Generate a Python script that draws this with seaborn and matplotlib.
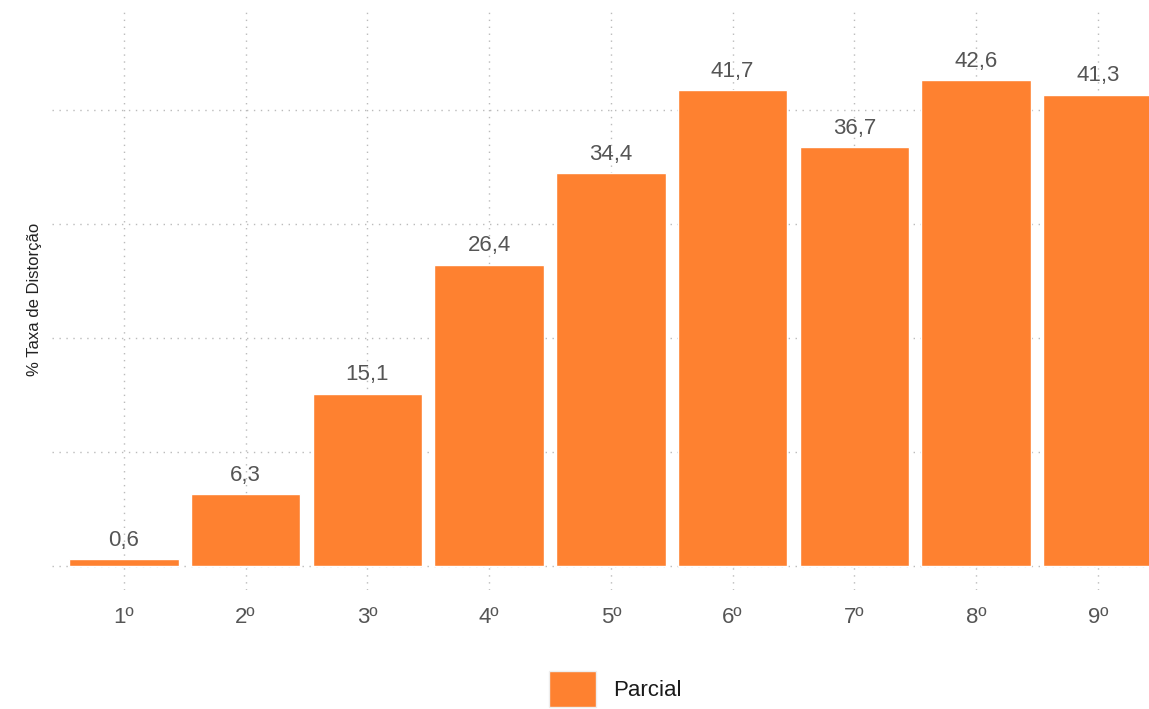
import numpy as np
import pandas as pd
import matplotlib
matplotlib.use("Agg")
import matplotlib.pyplot as plt
from matplotlib.patches import Patch
import seaborn as sns

# dados
anos = ["1º", "2º", "3º", "4º", "5º", "6º", "7º", "8º", "9º"]
taxa = [0.6, 6.3, 15.1, 26.4, 34.4, 41.7, 36.7, 42.6, 41.3]
serie = "Parcial"
cor = "#FE8130"

sns.set_theme(style="whitegrid")
plt.rcParams['font.family'] = ['Liberation Sans', 'DejaVu Sans']

df = pd.DataFrame({"ano": anos, "taxa": taxa})

fig = plt.figure(figsize=(11.49, 7.09), dpi=100)
ax = fig.add_axes([52 / 1149, 1 - 590 / 709, 1 - 52 / 1149, (590 - 8) / 709])

sns.barplot(data=df, x="ano", y="taxa", color=cor, saturation=1, width=0.9, ax=ax, zorder=3)

labels = ["{:.1f}".format(v).replace(".", ",") for v in taxa]
ax.bar_label(ax.containers[0], labels=labels, padding=6, fontsize=16, color="#555555")

ax.set_ylim(-2.1, 48.9)
ax.set_xlim(-0.59, 8.42)
ax.set_yticks([0, 10, 20, 30, 40])
ax.set_yticklabels([])
ax.set_xlabel("")
ax.set_ylabel("% Taxa de Distorção", fontsize=12, color="#222222", labelpad=7)
ax.tick_params(axis="x", length=0, labelsize=16, labelcolor="#555555", pad=12)
ax.tick_params(axis="y", length=0, pad=0)
ax.grid(True, axis="both", linestyle=(0, (1, 4)), color="#bbbbbb", linewidth=1)
ax.set_axisbelow(True)
for s in ax.spines.values():
    s.set_visible(False)

fig.legend(handles=[Patch(facecolor=cor, edgecolor="#eeeeee", label=serie)],
           loc="upper left", bbox_to_anchor=(549 / 1149, 1 - 671 / 709),
           frameon=False, fontsize=16, labelcolor="#1a1a1a",
           handlelength=2.1, handleheight=2.1,
           handletextpad=0.8, borderpad=0, borderaxespad=0)

fig.savefig("out.png", dpi=100)
